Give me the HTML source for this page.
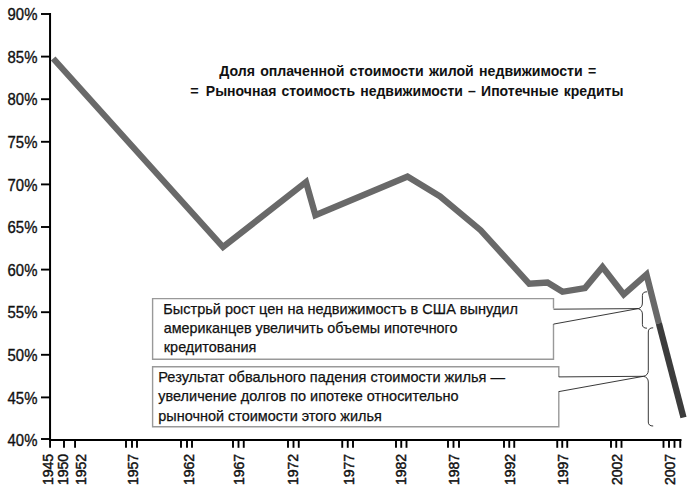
<!DOCTYPE html>
<html><head><meta charset="utf-8"><title>chart</title>
<style>html,body{margin:0;padding:0;background:#fff;}svg{display:block;}text{font-family:"Liberation Sans",sans-serif;}</style></head><body>
<svg width="692" height="500" viewBox="0 0 692 500">
<rect width="692" height="500" fill="#fff"/>
<g stroke="#000" stroke-width="2.0" fill="none">
<path d="M50.05 13.0 V441.0"/>
<path d="M49.05 440.0 H681.5"/>
</g>
<g stroke="#000" stroke-width="1.9" fill="none">
<path d="M41 14.00 H50.05"/>
<path d="M41 56.60 H50.05"/>
<path d="M41 99.20 H50.05"/>
<path d="M41 141.80 H50.05"/>
<path d="M41 184.40 H50.05"/>
<path d="M41 227.00 H50.05"/>
<path d="M41 269.60 H50.05"/>
<path d="M41 312.20 H50.05"/>
<path d="M41 354.80 H50.05"/>
<path d="M41 397.40 H50.05"/>
<path d="M41 439.00 H50.05"/>
</g>
<g stroke="#000" stroke-width="1.9" fill="none">
<path d="M50.05 440.0 V447.8"/>
<path d="M64 440.0 V447.8"/>
<path d="M75.05 440.0 V447.8"/>
<path d="M126 440.0 V447.8"/>
<path d="M132 440.0 V447.8"/>
<path d="M137 440.0 V447.8"/>
<path d="M181 440.0 V447.8"/>
<path d="M187 440.0 V447.8"/>
<path d="M192 440.0 V447.8"/>
<path d="M233 440.0 V447.8"/>
<path d="M238.5 440.0 V447.8"/>
<path d="M243.75 440.0 V447.8"/>
<path d="M288 440.0 V447.8"/>
<path d="M293.5 440.0 V447.8"/>
<path d="M298.75 440.0 V447.8"/>
<path d="M342.25 440.0 V447.8"/>
<path d="M347.75 440.0 V447.8"/>
<path d="M353 440.0 V447.8"/>
<path d="M396 440.0 V447.8"/>
<path d="M401.25 440.0 V447.8"/>
<path d="M406.5 440.0 V447.8"/>
<path d="M448 440.0 V447.8"/>
<path d="M453.5 440.0 V447.8"/>
<path d="M459 440.0 V447.8"/>
<path d="M504 440.0 V447.8"/>
<path d="M509.25 440.0 V447.8"/>
<path d="M514.25 440.0 V447.8"/>
<path d="M557.25 440.0 V447.8"/>
<path d="M562.25 440.0 V447.8"/>
<path d="M567.25 440.0 V447.8"/>
<path d="M611 440.0 V447.8"/>
<path d="M616.25 440.0 V447.8"/>
<path d="M621.5 440.0 V447.8"/>
<path d="M663.5 440.0 V447.8"/>
<path d="M669 440.0 V447.8"/>
<path d="M674.5 440.0 V447.8"/>
<path d="M680.25 440.0 V447.8"/>
</g>
<g font-size="16" fill="#111" stroke="#111" stroke-width="0.35">
<text x="7.6" y="19.90" textLength="29.8" lengthAdjust="spacingAndGlyphs">90%</text>
<text x="7.6" y="62.55" textLength="29.8" lengthAdjust="spacingAndGlyphs">85%</text>
<text x="7.6" y="105.20" textLength="29.8" lengthAdjust="spacingAndGlyphs">80%</text>
<text x="7.6" y="147.85" textLength="29.8" lengthAdjust="spacingAndGlyphs">75%</text>
<text x="7.6" y="190.50" textLength="29.8" lengthAdjust="spacingAndGlyphs">70%</text>
<text x="7.6" y="233.15" textLength="29.8" lengthAdjust="spacingAndGlyphs">65%</text>
<text x="7.6" y="275.80" textLength="29.8" lengthAdjust="spacingAndGlyphs">60%</text>
<text x="7.6" y="318.45" textLength="29.8" lengthAdjust="spacingAndGlyphs">55%</text>
<text x="7.6" y="361.10" textLength="29.8" lengthAdjust="spacingAndGlyphs">50%</text>
<text x="7.6" y="403.75" textLength="29.8" lengthAdjust="spacingAndGlyphs">45%</text>
<text x="7.6" y="446.40" textLength="29.8" lengthAdjust="spacingAndGlyphs">40%</text>
</g>
<g font-size="14.8" fill="#111" stroke="#111" stroke-width="0.45">
<text transform="translate(53.30 485.1) rotate(-90)" textLength="31.3" lengthAdjust="spacingAndGlyphs">1945</text>
<text transform="translate(68.00 485.1) rotate(-90)" textLength="31.3" lengthAdjust="spacingAndGlyphs">1950</text>
<text transform="translate(85.60 485.1) rotate(-90)" textLength="31.3" lengthAdjust="spacingAndGlyphs">1952</text>
<text transform="translate(137.80 485.1) rotate(-90)" textLength="31.3" lengthAdjust="spacingAndGlyphs">1957</text>
<text transform="translate(193.70 485.1) rotate(-90)" textLength="31.3" lengthAdjust="spacingAndGlyphs">1962</text>
<text transform="translate(243.90 485.1) rotate(-90)" textLength="31.3" lengthAdjust="spacingAndGlyphs">1967</text>
<text transform="translate(297.70 485.1) rotate(-90)" textLength="31.3" lengthAdjust="spacingAndGlyphs">1972</text>
<text transform="translate(353.70 485.1) rotate(-90)" textLength="31.3" lengthAdjust="spacingAndGlyphs">1977</text>
<text transform="translate(406.30 485.1) rotate(-90)" textLength="31.3" lengthAdjust="spacingAndGlyphs">1982</text>
<text transform="translate(459.20 485.1) rotate(-90)" textLength="31.3" lengthAdjust="spacingAndGlyphs">1987</text>
<text transform="translate(514.70 485.1) rotate(-90)" textLength="31.3" lengthAdjust="spacingAndGlyphs">1992</text>
<text transform="translate(568.30 485.1) rotate(-90)" textLength="31.3" lengthAdjust="spacingAndGlyphs">1997</text>
<text transform="translate(622.05 485.1) rotate(-90)" textLength="31.3" lengthAdjust="spacingAndGlyphs">2002</text>
<text transform="translate(674.55 485.1) rotate(-90)" textLength="31.3" lengthAdjust="spacingAndGlyphs">2007</text>
</g>
<path d="M53.2 58.5 L223 247 L306 182 L315.4 215.2 L407.5 176.5 L440 196.25 L480.6 230.2 L529.25 283.75 L547.5 282.5 L562.5 291.75 L585 288 L602.5 267 L623.75 294.5 L646.5 274.5 L658.9 323.4" fill="none" stroke="#696969" stroke-width="6.3" stroke-linejoin="miter" stroke-miterlimit="10"/>
<path d="M658.9 323.4 L683.5 417.5" fill="none" stroke="#3c3c3c" stroke-width="6.3"/>
<g font-size="14.4" font-weight="bold" fill="#111" word-spacing="1.3">
<text x="219.2" y="75.8" textLength="377" lengthAdjust="spacingAndGlyphs">Доля оплаченной стоимости жилой недвижимости =</text>
<text x="190.3" y="95.8">=</text>
<text x="205.8" y="95.8" textLength="417.6" lengthAdjust="spacingAndGlyphs">Рыночная стоимость недвижимости – Ипотечные кредиты</text>
</g>
<g fill="#fff" stroke="#999" stroke-width="1.4">
<path d="M553.5 323.9 V359.2 H152.6 V298.6 H553.5 V308.6"/>
<path d="M558.8 391.3 V426.8 H152.6 V366.7 H558.8 V377"/>
</g>
<g fill="none" stroke="#222" stroke-width="0.9">
<path d="M553.5 309.2 L638.2 308.6 L553.5 324.1"/>
<path d="M558.8 376.9 L643.5 376.3 L558.8 391.6"/>
<path d="M647 291.8 Q642.4 291.8 642.4 295.5 V303 Q642.4 307.5 638.2 308.7 Q642.4 309.9 642.4 314 V324.5 Q642.4 328.2 647 328.2"/>
<path d="M653.2 327.8 Q648.3 327.8 648.3 332 V370.5 Q648.3 375.2 643.5 376.3 Q648.3 377.4 648.3 382 V422 Q648.3 426 653.2 426"/>
</g>
<g font-size="15" fill="#111" stroke="#111" stroke-width="0.25">
<text x="163.3" y="314.2" textLength="354.6" lengthAdjust="spacingAndGlyphs">Быстрьй рост цен на недвижимостъ в США вынудил</text>
<text x="163.8" y="332.9" textLength="293.6" lengthAdjust="spacingAndGlyphs">американцев увеличить объемы ипотечного</text>
<text x="163.8" y="351.5" textLength="92.5" lengthAdjust="spacingAndGlyphs">кредитования</text>
<text x="158.3" y="381.5" textLength="346.7" lengthAdjust="spacingAndGlyphs">Результат обвального падения стоимости жилья —</text>
<text x="158.3" y="400.8" textLength="300.2" lengthAdjust="spacingAndGlyphs">увеличение долгов по ипотеке относительно</text>
<text x="158.3" y="420.6" textLength="223.5" lengthAdjust="spacingAndGlyphs">рыночной стоимости этого жилья</text>
</g>
</svg></body></html>
